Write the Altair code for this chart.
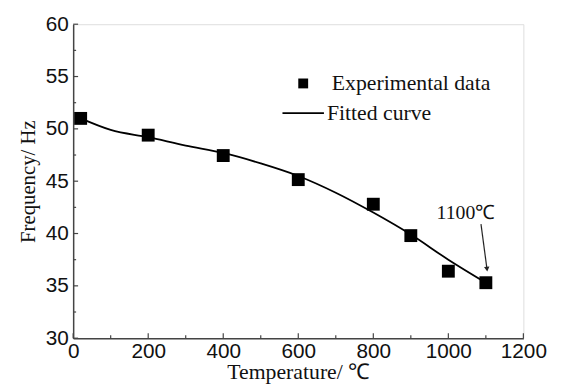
import altair as alt
import pandas as pd

# experimental data
temps = [20, 200, 400, 600, 800, 900, 1000, 1100]
freq = [51.0, 49.4, 47.45, 45.15, 42.8, 39.8, 36.4, 35.3]

# fitted curve
fit_t = [20, 100, 200, 300, 400, 500, 600, 700, 800, 900, 1000, 1100]
fit_f = [51.0, 49.9, 49.2, 48.4, 47.7, 46.7, 45.5, 43.9, 42.0, 39.9, 37.5, 35.3]

x_ticks_major = [0, 200, 400, 600, 800, 1000, 1200]
x_ticks_minor = [100, 300, 500, 700, 900, 1100]
y_ticks_major = [30, 35, 40, 45, 50, 55, 60]
y_ticks_minor = [32.5, 37.5, 42.5, 47.5, 52.5, 57.5]

annot_label = ["1100℃"]
annot_pos = [1047, 42.0]
arrow_from = [1087, 40.9]
arrow_to = [1103, 36.6]

W, H = 456, 318
AX = "#444444"
TXT = "#111111"

xs = alt.Scale(domain=[0, 1200], nice=False, zero=False)
ys = alt.Scale(domain=[30, 60], nice=False, zero=False)

df_pts = pd.DataFrame({"T": temps, "F": freq})
df_fit = pd.DataFrame({"T": fit_t, "F": fit_f})

xaxis = alt.Axis(values=x_ticks_major, format="d", title="Temperature/ ℃", grid=False, ticks=False,
                 domainColor=AX, domainWidth=1.5, labelFont="Liberation Sans", labelFontSize=21,
                 labelColor=TXT, labelPadding=3, titleFont="Liberation Serif", titleFontSize=22,
                 titleFontWeight="normal", titleColor=TXT, titlePadding=0, labelFlush=False)
yaxis = alt.Axis(values=y_ticks_major, format="d", title="Frequency/ Hz", grid=False, ticks=False,
                 domainColor=AX, domainWidth=1.5, labelFont="Liberation Sans", labelFontSize=21,
                 labelColor=TXT, labelPadding=5, titleFont="Liberation Serif", titleFontSize=21,
                 titleFontWeight="normal", titleColor=TXT, titlePadding=7, labelFlush=False)

fit = alt.Chart(df_fit).mark_line(color="black", strokeWidth=1.8, interpolate="monotone").encode(
    x=alt.X("T:Q", scale=xs, axis=xaxis),
    y=alt.Y("F:Q", scale=ys, axis=yaxis),
)
pts = alt.Chart(df_pts).mark_square(size=170, color="black", opacity=1).encode(
    x=alt.X("T:Q", scale=xs), y=alt.Y("F:Q", scale=ys)
)

def xt(vals, length):
    return alt.Chart(pd.DataFrame({"T": vals})).mark_rule(color=AX, strokeWidth=1.2).encode(
        x=alt.X("T:Q", scale=xs), y=alt.value(H), y2=alt.value(H - length))

def yt(vals, length):
    return alt.Chart(pd.DataFrame({"F": vals})).mark_rule(color=AX, strokeWidth=1.2).encode(
        y=alt.Y("F:Q", scale=ys), x=alt.value(0), x2=alt.value(length))

ticks = [xt(x_ticks_major, 5), xt(x_ticks_minor, 3), yt(y_ticks_major, 5), yt(y_ticks_minor, 3)]

# legend
leg_df = pd.DataFrame({"k": [0]})
leg_sq = alt.Chart(leg_df).mark_square(size=100, color="black", opacity=1).encode(
    x=alt.value(233), y=alt.value(60))
leg_t1 = alt.Chart(leg_df).mark_text(text="Experimental data", align="left", baseline="middle",
                                     font="Liberation Serif", fontSize=22, color=TXT).encode(
    x=alt.value(262), y=alt.value(60))
leg_ln = alt.Chart(leg_df).mark_rule(color="black", strokeWidth=1.8).encode(
    x=alt.value(212), x2=alt.value(254), y=alt.value(90))
leg_t2 = alt.Chart(leg_df).mark_text(text="Fitted curve", align="left", baseline="middle",
                                     font="Liberation Serif", fontSize=22, color=TXT).encode(
    x=alt.value(257), y=alt.value(90))

# annotation
ann = alt.Chart(pd.DataFrame({"T": [annot_pos[0]], "F": [annot_pos[1]], "s": annot_label})).mark_text(
    align="center", baseline="middle", font="Liberation Serif", fontSize=20, color=TXT).encode(
    x=alt.X("T:Q", scale=xs), y=alt.Y("F:Q", scale=ys), text="s:N")
arr = alt.Chart(pd.DataFrame({"T": [arrow_from[0]], "F": [arrow_from[1]],
                              "T2": [arrow_to[0]], "F2": [arrow_to[1]]})).mark_rule(
    color="#222", strokeWidth=1.2).encode(
    x=alt.X("T:Q", scale=xs), y=alt.Y("F:Q", scale=ys), x2="T2:Q", y2="F2:Q")
head = alt.Chart(pd.DataFrame({"T": [arrow_to[0]], "F": [arrow_to[1]]})).mark_point(
    shape="triangle-down", filled=True, size=30, color="#222", angle=353, opacity=1).encode(
    x=alt.X("T:Q", scale=xs), y=alt.Y("F:Q", scale=ys))

chart = alt.layer(fit, pts, *ticks, leg_sq, leg_t1, leg_ln, leg_t2, ann, arr, head).properties(
    width=W, height=H,
    autosize=alt.AutoSizeParams(type="none"),
    padding={"left": 66, "top": 14, "right": 30, "bottom": 44},
).configure_view(stroke=AX, strokeWidth=1.5).configure(background="white")

chart.save("out.html", embed_options={"renderer": "svg", "actions": False})
